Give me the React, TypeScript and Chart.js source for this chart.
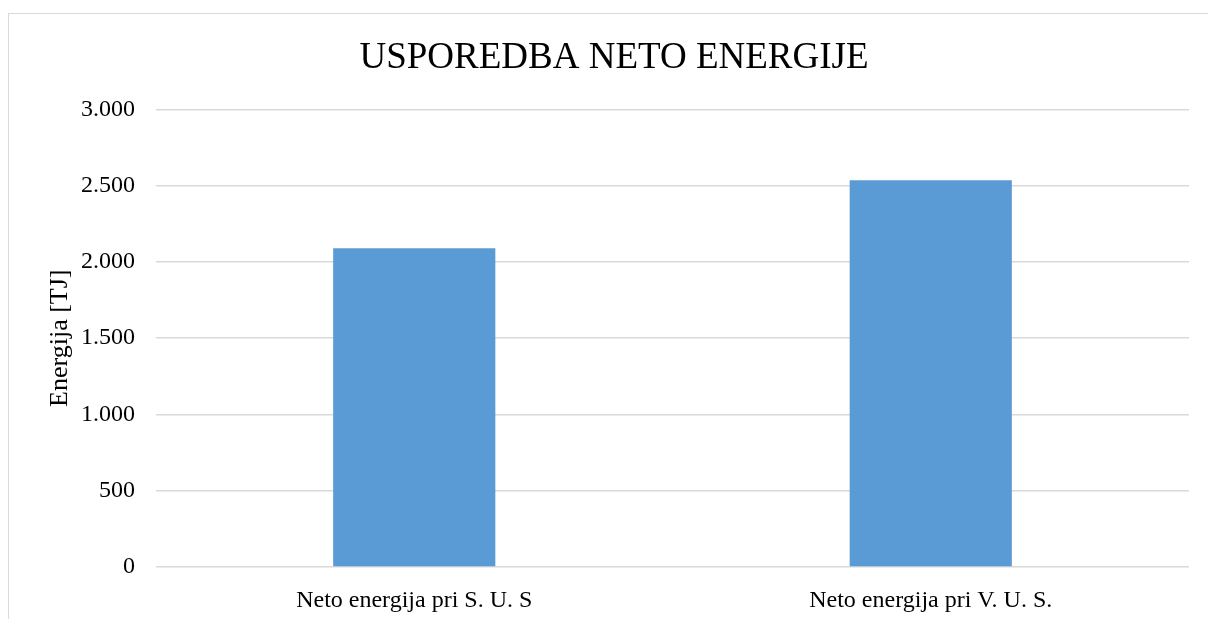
import React, { useEffect, useRef } from "react";
import { Chart, registerables } from "chart.js";

Chart.register(...registerables);

const categories = ["Neto energija pri S. U. S", "Neto energija pri V. U. S."];
const netEnergy = [2090, 2535];
const yTicks = [0, 500, 1000, 1500, 2000, 2500, 3000];
const titleText = "USPOREDBA NETO ENERGIJE";
const yTitle = "Energija [TJ]";

const fmt = (v: number) => String(v).replace(/\B(?=(\d{3})+(?!\d))/g, ".");

export default function App() {
  const ref = useRef<HTMLCanvasElement>(null);
  useEffect(() => {
    if (!ref.current) return;
    const font = "'Liberation Serif', 'Times New Roman', serif";
    const chart = new Chart(ref.current, {
      type: "bar",
      data: {
        labels: categories,
        datasets: [
          {
            data: netEnergy,
            backgroundColor: "#5B9BD5",
            barPercentage: 0.314,
            categoryPercentage: 1,
          },
        ],
      },
      options: {
        animation: false,
        responsive: false,
        maintainAspectRatio: false,
        layout: { padding: { left: 39, right: 19, top: 14, bottom: 0 } },
        plugins: {
          legend: { display: false },
          tooltip: { enabled: false },
          title: {
            display: true,
            text: titleText,
            color: "#000",
            font: { family: font, size: 37, weight: "normal" },
            padding: { top: 22, bottom: 29 },
          },
        },
        scales: {
          x: {
            grid: { display: false, drawTicks: false },
            border: { display: false },
            ticks: {
              color: "#000",
              font: { family: font, size: 24 },
              padding: 19,
              maxRotation: 0,
            },
            afterFit: (s: any) => {
              s.height = 52;
            },
          },
          y: {
            min: 0,
            max: 3000,
            afterBuildTicks: (s: any) => {
              s.ticks = yTicks.map((v) => ({ value: v }));
            },
            grid: { color: "#d9d9d9", lineWidth: 1.5, drawTicks: false },
            border: { display: false },
            ticks: {
              color: "#000",
              font: { family: font, size: 24 },
              padding: 21,
              callback: (v: any) => fmt(Number(v)),
            },
            title: {
              display: true,
              text: yTitle,
              color: "#000",
              font: { family: font, size: 26 },
              padding: { top: 6, bottom: 4 },
            },
            afterFit: (s: any) => {
              s.width = 117;
            },
          },
        },
      },
    });
    return () => chart.destroy();
  }, []);

  return (
    <div>
      <div
        style={{
          position: "absolute",
          left: 8,
          top: 13,
          width: 1210,
          height: 700,
          borderLeft: "1px solid #d9d9d9",
          borderTop: "1px solid #d9d9d9",
          boxSizing: "border-box",
        }}
      />
      <canvas
        ref={ref}
        width={1208}
        height={619}
        style={{ position: "absolute", left: 0, top: 0, width: 1208, height: 619 }}
      />
    </div>
  );
}
